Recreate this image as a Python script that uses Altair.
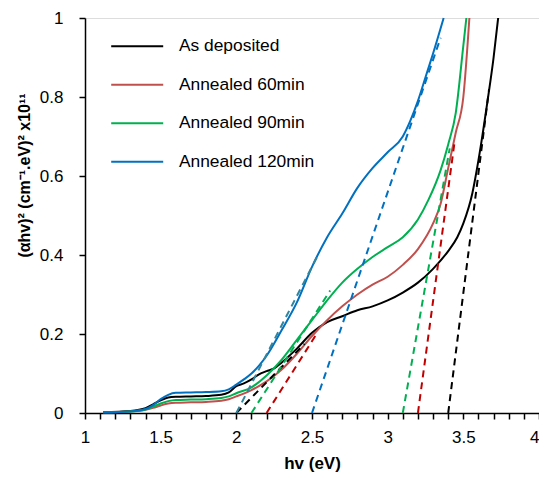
import altair as alt
import pandas as pd

# ---- data ----
series_names = ["As deposited", "Annealed 60min", "Annealed 90min", "Annealed 120min"]
series_colors = ["#000000", "#C0504D", "#00B050", "#0070C0"]

x_as = [1.12, 1.3, 1.4, 1.45, 1.5, 1.55, 1.6, 1.7, 1.8, 1.9, 1.95, 2.0, 2.05, 2.1, 2.15, 2.2, 2.25,
        2.3, 2.4, 2.5, 2.6, 2.7, 2.8, 2.9, 3.0, 3.1, 3.2, 3.3, 3.4, 3.46, 3.5, 3.56, 3.6, 3.66, 3.7, 3.73]
y_as = [0.002, 0.005, 0.012, 0.022, 0.032, 0.039, 0.041, 0.042, 0.043, 0.046, 0.052, 0.068, 0.075,
        0.085, 0.098, 0.106, 0.113, 0.128, 0.163, 0.203, 0.23, 0.245, 0.26, 0.27, 0.285, 0.305, 0.33,
        0.365, 0.41, 0.445, 0.48, 0.557, 0.64, 0.79, 0.9, 1.0]

x_60 = [1.12, 1.3, 1.4, 1.45, 1.5, 1.55, 1.6, 1.7, 1.8, 1.9, 1.95, 2.0, 2.1, 2.2, 2.3, 2.4, 2.5, 2.6,
        2.7, 2.8, 2.9, 3.0, 3.1, 3.2, 3.3, 3.35, 3.4, 3.45, 3.5, 3.54]
y_60 = [0.002, 0.004, 0.008, 0.013, 0.019, 0.024, 0.026, 0.027, 0.028, 0.031, 0.035, 0.042, 0.058,
        0.08, 0.11, 0.15, 0.195, 0.235, 0.27, 0.30, 0.325, 0.345, 0.375, 0.415, 0.48, 0.53, 0.62,
        0.71, 0.80, 1.0]

x_90 = [1.12, 1.3, 1.4, 1.45, 1.5, 1.55, 1.6, 1.7, 1.8, 1.9, 1.95, 2.0, 2.1, 2.2, 2.3, 2.4, 2.5, 2.6,
        2.7, 2.8, 2.9, 3.0, 3.1, 3.2, 3.27, 3.35, 3.4, 3.45, 3.5, 3.52]
y_90 = [0.002, 0.004, 0.009, 0.016, 0.024, 0.030, 0.033, 0.034, 0.035, 0.038, 0.042, 0.050, 0.065,
        0.095, 0.135, 0.185, 0.235, 0.285, 0.33, 0.365, 0.395, 0.42, 0.445, 0.49, 0.54, 0.615, 0.68,
        0.76, 0.93, 1.0]

x_120 = [1.12, 1.3, 1.4, 1.45, 1.5, 1.55, 1.6, 1.7, 1.8, 1.9, 1.95, 2.0, 2.05, 2.1, 2.15, 2.2, 2.3,
         2.4, 2.5, 2.6, 2.7, 2.8, 2.9, 3.0, 3.1, 3.15, 3.2, 3.25, 3.3, 3.37]
y_120 = [0.002, 0.004, 0.010, 0.020, 0.035, 0.046, 0.051, 0.052, 0.053, 0.055, 0.06, 0.072, 0.085,
         0.10, 0.12, 0.145, 0.21, 0.28, 0.37, 0.445, 0.505, 0.57, 0.62, 0.66, 0.70, 0.74, 0.79, 0.85,
         0.91, 1.0]

# tangent (Tauc extrapolation) dashed segments
tan_x0 = [2.0, 3.4, 2.2, 3.2, 2.1, 3.1, 2.0, 2.5]
tan_y0 = [0.0, 0.0, 0.0, 0.0, 0.0, 0.0, 0.0, 0.0]
tan_x1 = [2.45, 3.67, 2.53, 3.44, 2.62, 3.41, 2.54, 3.35]
tan_y1 = [0.175, 0.82, 0.2, 0.68, 0.31, 0.67, 0.40, 0.95]
tan_colors = ["#000000", "#000000", "#C00000", "#C00000", "#00B050", "#00B050", "#31859C", "#0070C0"]

x_ticks = [round(1 + 0.1 * i, 1) for i in range(31)]
y_ticks = [0, 0.2, 0.4, 0.6, 0.8, 1]

# ---- tables ----
rows = []
for name, xs, ys in zip(series_names, [x_as, x_60, x_90, x_120], [y_as, y_60, y_90, y_120]):
    for i, (xv, yv) in enumerate(zip(xs, ys)):
        rows.append({"series": name, "x": xv, "y": yv, "order": i})
curves = pd.DataFrame(rows)

tangents = pd.DataFrame({"x0": tan_x0, "y0": tan_y0, "x1": tan_x1, "y1": tan_y1,
                         "col": tan_colors, "id": list(range(len(tan_x0)))})

FONT = "Liberation Sans"

x_scale = alt.Scale(domain=[1, 4], nice=False, zero=False)
y_scale = alt.Scale(domain=[0, 1], nice=False)

x_axis = alt.Axis(title="hv (eV)", values=x_ticks, tickCount=len(x_ticks), format="~g",
                  labelExpr="abs(datum.value*2 - round(datum.value*2)) < 0.001 ? datum.label : ''",
                  labelAlign={"condition": {"test": "datum.value >= 3.95", "value": "right"},
                              "value": "center"},
                  grid=False, tickSize=6, tickColor="black", tickWidth=1.5,
                  domainColor="black", domainWidth=1.5, labelFontSize=17, labelFont=FONT,
                  labelColor="black", labelPadding=10, labelOverlap=False, labelFlush=False,
                  titleFont=FONT, titleFontSize=17, titleFontWeight="bold", titleColor="black",
                  titlePadding=10)
y_axis = alt.Axis(title="(αhv)² (cm⁻¹.eV)² x10¹¹", values=y_ticks, tickCount=len(y_ticks),
                  format="~g", grid=False, tickSize=6, tickColor="black", tickWidth=1.5,
                  domainColor="black", domainWidth=1.5, labelFontSize=17, labelFont=FONT,
                  labelColor="black", labelPadding=16, labelOverlap=False, labelFlush=False,
                  titleFont=FONT, titleFontSize=16, titleFontWeight="bold", titleColor="black",
                  titleX=-61, titleY=157, titleBaseline="middle", titleAngle=270)

lines = alt.Chart(curves).mark_line(strokeWidth=2, interpolate="monotone").encode(
    x=alt.X("x:Q", scale=x_scale, axis=x_axis),
    y=alt.Y("y:Q", scale=y_scale, axis=y_axis),
    color=alt.Color("series:N", sort=series_names,
                    scale=alt.Scale(domain=series_names, range=series_colors),
                    legend=alt.Legend(orient="none", legendX=43.5, legendY=19.5, title=None,
                                      symbolType="M-5.2,0L5.2,0", symbolSize=100,
                                      symbolStrokeWidth=2, labelFont=FONT, labelFontSize=17.4,
                                      labelColor="black", labelOffset=33, rowPadding=19.5,
                                      padding=0)),
    order="order:Q",
)

dashes = alt.Chart(tangents).mark_rule(strokeWidth=2, strokeDash=[7, 5]).encode(
    x="x0:Q", y="y0:Q", x2="x1:Q", y2="y1:Q",
    color=alt.Color("col:N", scale=None),
    detail="id:N",
)

chart = alt.layer(lines, dashes).properties(
    width=454, height=395,
    padding={"left": 77, "top": 10, "right": 0, "bottom": 64},
    autosize="none",
).configure_view(stroke="black", strokeWidth=1.5).configure(background="white")

chart.save("out.html", embed_options={"renderer": "svg", "actions": False})
